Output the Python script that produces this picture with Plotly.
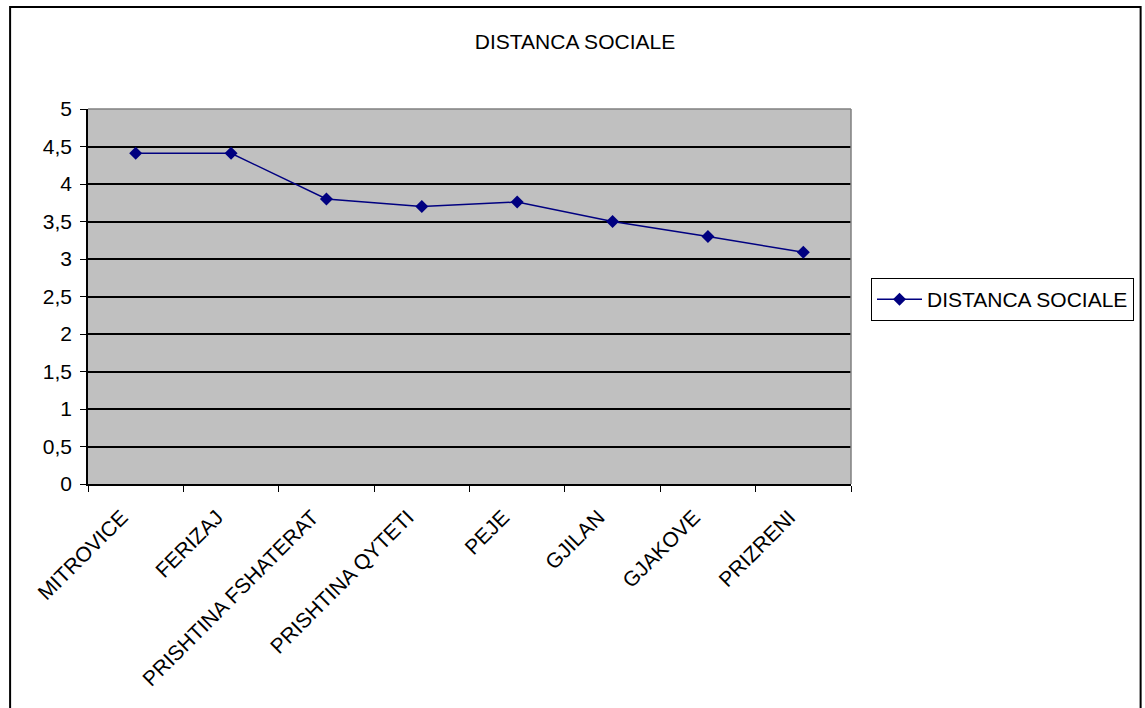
import plotly.graph_objects as go

# Social distance index by locality
categories = ["MITROVICE", "FERIZAJ", "PRISHTINA FSHATERAT", "PRISHTINA QYTETI",
              "PEJE", "GJILAN", "GJAKOVE", "PRIZRENI"]
values = [4.41, 4.41, 3.80, 3.70, 3.76, 3.50, 3.30, 3.09]
series_name = "DISTANCA SOCIALE"
chart_title = "DISTANCA SOCIALE"

W, H = 1145, 708
L, R, T, B = 88, 852, 109, 484  # plot-area pixel edges
FONT = "Arial, Liberation Sans, sans-serif"


def px_x(p):
    return (p - L) / (R - L)


def px_y(p):
    return (B - p) / (B - T)


fig = go.Figure()
fig.add_trace(go.Scatter(
    x=categories, y=values, name=series_name, mode="lines+markers",
    line=dict(color="#000080", width=1.5),
    marker=dict(symbol="diamond", size=10, color="#000080"),
    showlegend=True,
))

fig.update_layout(
    width=W, height=H,
    margin=dict(l=L, r=W - R, t=T, b=H - B, pad=0),
    paper_bgcolor="white", plot_bgcolor="#C0C0C0",
    separators=",.",
    font=dict(family=FONT, size=20, color="black"),
    title=dict(text=chart_title, x=575 / W, xanchor="center",
               y=1 - 42 / H, yanchor="middle", yref="container",
               font=dict(family=FONT, size=21, color="black")),
    showlegend=True,
    legend=dict(x=px_x(871), y=px_y(278), xanchor="left", yanchor="top",
                bordercolor="black", borderwidth=1, bgcolor="white",
                font=dict(family=FONT, size=21, color="black"),
                itemwidth=45, tracegroupgap=0),
    xaxis=dict(type="category", tickson="boundaries", ticks="outside",
               ticklen=6, tickcolor="black", tickangle=-45,
               ticklabelstandoff=11, ticklabelshift=-14,
               showgrid=False, showline=True, linecolor="black", linewidth=1.5,
               range=[-0.5, 7.5], tickfont=dict(size=21)),
    yaxis=dict(range=[0, 5], dtick=0.5, tick0=0, ticks="outside", ticklen=6,
               tickcolor="black", ticklabelstandoff=4,
               showgrid=True, gridcolor="black", gridwidth=1.5,
               zeroline=False, showline=True, linecolor="black", linewidth=1.5,
               tickfont=dict(size=21)),
)

# gray top and right edges of the plot area
fig.add_shape(type="line", xref="paper", yref="paper", x0=0, x1=1, y0=1, y1=1,
              line=dict(color="#808080", width=1.5), layer="above")
fig.add_shape(type="line", xref="paper", yref="paper", x0=1, x1=1, y0=0, y1=1,
              line=dict(color="#808080", width=1.5), layer="above")

# outer chart frame
fig.add_shape(type="rect", xref="paper", yref="paper",
              x0=px_x(10), x1=px_x(1142), y0=px_y(720), y1=px_y(7),
              line=dict(color="black", width=2), fillcolor="rgba(0,0,0,0)",
              layer="above")

fig.write_html("out.html")
